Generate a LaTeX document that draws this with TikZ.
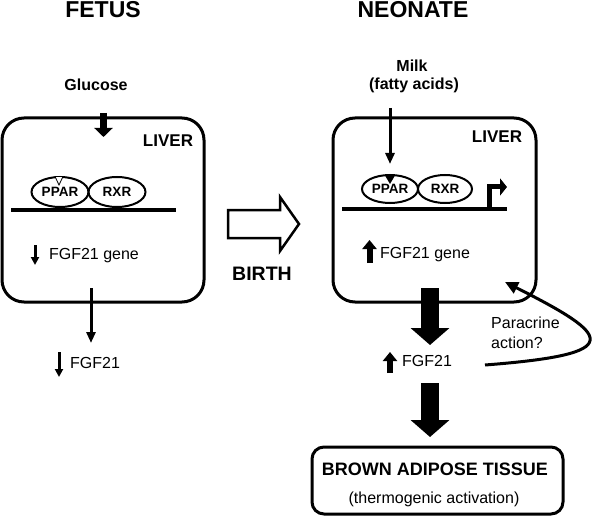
\documentclass[tikz,border=0pt]{standalone}
\usepackage{fontspec}
\setmainfont{Liberation Sans}
\usetikzlibrary{arrows.meta,shapes.geometric}
\begin{document}
\begin{tikzpicture}[x=1pt,y=-1pt,
  title/.style={font=\fontsize{23}{23}\selectfont\bfseries, inner sep=0pt, anchor=base},
  blab/.style={font=\fontsize{16}{16}\selectfont\bfseries, inner sep=0pt, anchor=base},
  rlab/.style={font=\fontsize{16}{16}\selectfont, inner sep=0pt, anchor=base},
  liverbox/.style={draw, line width=3pt, rounded corners=22pt, minimum width=202pt, minimum height=184pt, inner sep=0pt},
  recep/.style={draw, ellipse, line width=2pt, minimum width=57pt, minimum height=30pt, inner sep=0pt, font=\fontsize{13.5}{13.5}\selectfont\bfseries},
  dna/.style={line width=4pt},
  thin/.style={line width=3pt, -{Triangle[width=9pt,length=11pt]}},
  small/.style={line width=3pt, -{Triangle[width=8pt,length=8pt]}},
  fat/.style={line width=6pt, -{Triangle[width=14pt,length=9pt]}},
  huge/.style={line width=18pt, -{Triangle[width=38pt,length=17pt]}}]
\useasboundingbox (0,0) rectangle (600,516);

% titles
\node[title] (fetus) at (103,18) {FETUS};
\node[title] (neonate) at (413,18) {NEONATE};

% ---------- fetus ----------
\node[blab] (glucose) at (96,91) {Glucose};
\node[liverbox] (liverL) at (103,210) {};
\node[blab, font=\fontsize{17}{17}\selectfont\bfseries] (liverLlab) at (168,147) {LIVER};
\node[recep] (pparL) at (60,192) {PPAR};
\node[recep] (rxrL) at (117,192) {RXR};
\coordinate (dnaLa) at (11,210);
\coordinate (dnaLb) at (176,210);
\draw[dna] (dnaLa) -- (dnaLb);
\draw[line width=0.8pt, fill=white] (55,176.5) -- (63,176.5) -- (59,185) -- cycle;
\coordinate (gluA) at (103.5,113);
\coordinate (gluB) at (103.5,137);
\draw[line width=7pt, -{Triangle[width=18pt,length=9pt]}] (gluA) -- (gluB);
\node[rlab] (geneL) at (94,259) {FGF21 gene};
\coordinate (geneLa) at (35,245);
\coordinate (geneLb) at (35,265);
\draw[small] (geneLa) -- (geneLb);
\coordinate (exitLa) at (91,288);
\coordinate (exitLb) at (91,343);
\draw[thin] (exitLa) -- (exitLb);
\node[rlab] (fgfL) at (95,368) {FGF21};
\coordinate (fgfLa) at (59,352);
\coordinate (fgfLb) at (59,377);
\draw[small] (fgfLa) -- (fgfLb);

% ---------- birth ----------
\draw[line width=2.5pt, line join=miter] (228,210) -- (280,210) -- (280,197) -- (299,224) -- (280,251) -- (280,238) -- (228,238) -- cycle;
\node[title, font=\fontsize{19.5}{19.5}\selectfont\bfseries] (birth) at (262,280) {BIRTH};

% ---------- neonate ----------
\node[blab] (milk) at (412,72) {Milk};
\node[blab] (fatty) at (414,90) {(fatty acids)};
\node[liverbox, minimum width=203pt] (liverR) at (434.5,210) {};
\node[blab, font=\fontsize{17}{17}\selectfont\bfseries] (liverRlab) at (497,143) {LIVER};
\node[recep, minimum width=56pt, minimum height=28pt] (pparR) at (390,189) {PPAR};
\node[recep, minimum width=54pt, minimum height=28pt] (rxrR) at (445,189) {RXR};
\coordinate (dnaRa) at (342,209);
\coordinate (dnaRb) at (507,209);
\draw[dna] (dnaRa) -- (dnaRb);
\fill (385,175.5) -- (395,175.5) -- (390,184) -- cycle;
\coordinate (milkA) at (390,108);
\coordinate (milkB) at (390,164);
\draw[thin] (milkA) -- (milkB);
\coordinate (tssA) at (489,209);
\coordinate (tssB) at (507,187);
\draw[line width=5pt, line join=miter, -{Triangle[width=17pt,length=7pt]}] (tssA) |- (tssB);
\node[rlab] (geneR) at (425,258) {FGF21 gene};
\coordinate (geneRa) at (369.5,263);
\coordinate (geneRb) at (369.5,240);
\draw[fat] (geneRa) -- (geneRb);
\coordinate (bigAa) at (430,288);
\coordinate (bigAb) at (430,345);
\draw[huge] (bigAa) -- (bigAb);
\node[rlab] (fgfR) at (427,366) {FGF21};
\coordinate (fgfRa) at (390,373);
\coordinate (fgfRb) at (390,352);
\draw[fat] (fgfRa) -- (fgfRb);
\coordinate (bigBa) at (430,383);
\coordinate (bigBb) at (430,437);
\draw[huge] (bigBa) -- (bigBb);
\node[draw, line width=3pt, rounded corners=12pt, minimum width=251pt, minimum height=67pt, inner sep=0pt] (bat) at (437.5,480.5) {};
\node[blab, font=\fontsize{18}{18}\selectfont\bfseries] (batlab) at (435,475) {BROWN ADIPOSE TISSUE};
\node[rlab] (thermo) at (434,503) {(thermogenic activation)};
\node[rlab, anchor=base west] (para1) at (491,328) {Paracrine};
\node[rlab, anchor=base west] (para2) at (491,348) {action?};
\coordinate (paraA) at (485,365);
\coordinate (paraB) at (505,282);
\draw[line width=3pt, -{Triangle[width=12pt,length=13pt]}] (paraA) .. controls (628,354) and (612,336) .. (paraB);
\end{tikzpicture}
\end{document}
